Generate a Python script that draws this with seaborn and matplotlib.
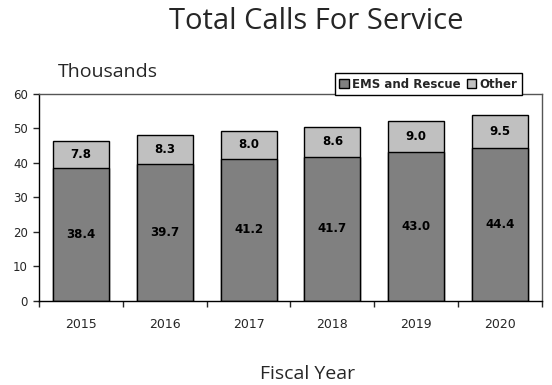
import matplotlib
matplotlib.use("Agg")
import matplotlib.pyplot as plt
import seaborn as sns
import pandas as pd
from matplotlib.patches import Patch

years = ["2015", "2016", "2017", "2018", "2019", "2020"]
ems = [38.4, 39.7, 41.2, 41.7, 43.0, 44.4]
other = [7.8, 8.3, 8.0, 8.6, 9.0, 9.5]
yticks = [0, 10, 20, 30, 40, 50, 60]

sns.set_style("white")
plt.rcParams['font.family'] = ['DejaVu Sans']

df = pd.DataFrame({"year": years, "ems": ems, "other": other})
df["total"] = df["ems"] + df["other"]

fig = plt.figure(figsize=(5.52, 3.85), dpi=100)
ax = fig.add_axes([0.0707, 0.218, 0.911, 0.539])

dark = "#808080"
light = "#c0c0c0"
sns.barplot(data=df, x="year", y="total", color=light, edgecolor="black",
            linewidth=1, width=0.668, saturation=1, ax=ax)
sns.barplot(data=df, x="year", y="ems", color=dark, edgecolor="black",
            linewidth=1, width=0.668, saturation=1, ax=ax)

for i, (e, o) in enumerate(zip(ems, other)):
    ax.text(i, e / 2, f"{e:.1f}", ha="center", va="center", fontsize=8.5,
            fontweight="bold", color="black")
    ax.text(i, e + o / 2, f"{o:.1f}", ha="center", va="center", fontsize=8.5,
            fontweight="bold", color="black")

ax.set_ylim(0, 60)
ax.set_xlim(-0.5, 5.5)
ax.set_yticks(yticks)
ax.set_yticklabels([str(t) for t in yticks], fontsize=8.5)
ax.set_xticks(range(6))
ax.set_xticklabels(years, fontsize=9)
ax.tick_params(axis="x", length=0, pad=12)
ax.tick_params(axis="y", length=4, direction="out", left=True, width=1, pad=4)
ax.set_xticks([i + 0.5 for i in range(-1, 6)], minor=True)
ax.tick_params(axis="x", which="minor", length=4, direction="out", bottom=True, width=1)
ax.set_xlabel("")
ax.set_ylabel("")
for side in ["left", "bottom"]:
    ax.spines[side].set_color("black")
    ax.spines[side].set_linewidth(1)
for side in ["top", "right"]:
    ax.spines[side].set_color("#555555")
    ax.spines[side].set_linewidth(1)

fig.text(0.573, 0.945, "Total Calls For Service", ha="center", va="center",
         fontsize=21, family="Open Sans")
fig.text(0.196, 0.812, "Thousands", ha="center", va="center",
         fontsize=14, family="Open Sans")
fig.text(0.558, 0.028, "Fiscal Year", ha="center", va="center",
         fontsize=14, family="Open Sans")

handles = [Patch(facecolor=dark, edgecolor="black", label="EMS and Rescue"),
           Patch(facecolor=light, edgecolor="black", label="Other")]
leg = ax.legend(handles=handles, loc="center", bbox_to_anchor=(0.774, 1.046),
                ncol=2, frameon=True, fancybox=False,
                prop={"weight": "bold", "size": 8.5}, handlelength=0.8,
                handleheight=0.8, handletextpad=0.3, columnspacing=0.5,
                borderpad=0.35, borderaxespad=0)
leg.get_frame().set_edgecolor("black")
leg.get_frame().set_linewidth(1)
leg.get_frame().set_alpha(1)

fig.savefig("out.png", dpi=100)
